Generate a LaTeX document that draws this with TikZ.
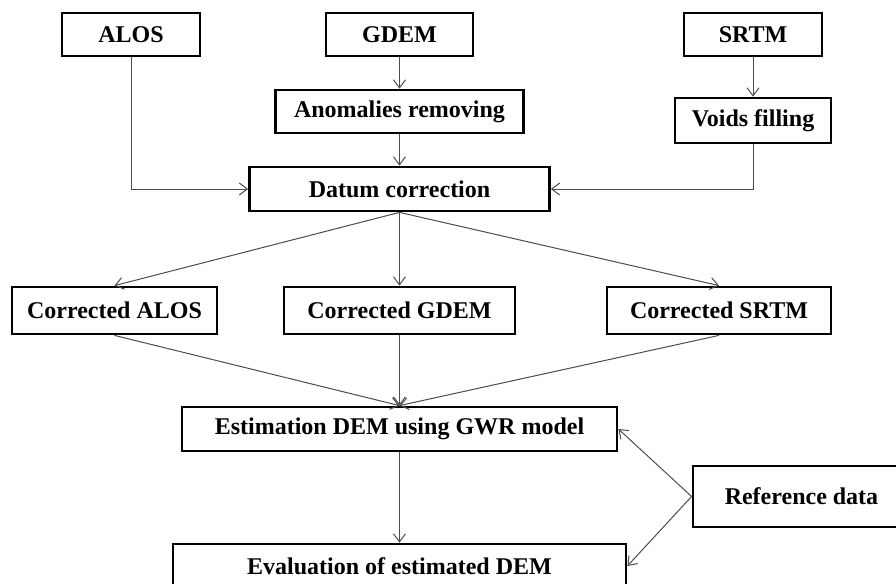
\documentclass[tikz,border=0pt]{standalone}
\usepackage{fontspec}
\setmainfont{Liberation Serif}
\usetikzlibrary{arrows.meta}

\begin{document}
\begin{tikzpicture}[x=0.5pt,y=-0.5pt,
        box/.style={draw,line width=1.4pt,inner sep=0pt,minimum height=22pt,
            font=\bfseries\fontsize{12}{14}\selectfont},
        flow/.style={draw=black!70,line width=0.5pt,
            -{Straight Barb[length=4pt,width=6pt]}}]
        \useasboundingbox (0,0) rectangle (896,584);
        \clip (0,0) rectangle (896,584);
        % input DEMs
        \node[box,minimum width=69pt,minimum height=21.5pt] (alos) at (131,34.5) {ALOS};
        \node[box,minimum width=73.5pt,minimum height=21.5pt] (gdem) at (399.5,34.5) {GDEM};
        \node[box,minimum width=69pt,minimum height=21.5pt] (srtm) at (753,34.5) {SRTM};
        \node[box,minimum width=124pt,minimum height=21.5pt] (anom) at (399.5,111.5) {Anomalies removing};
        \node[box,minimum width=78pt,minimum height=22.5pt] (voids) at (753,120.5) {Voids filling};
        \node[box,minimum width=150pt] (datum) at (399.5,189) {Datum correction};
        % corrected DEMs
        \node[box,minimum width=102.5pt,minimum height=23.5pt] (calos) at (114.5,310.5) {Corrected ALOS};
        \node[box,minimum width=115.5pt,minimum height=23.5pt] (cgdem) at (399.5,310.5) {Corrected GDEM};
        \node[box,minimum width=112pt,minimum height=23.5pt] (csrtm) at (719,310.5) {Corrected SRTM};
        % model and evaluation
        \node[box,minimum width=217.5pt] (est) at (399.5,429) {Estimation DEM using GWR model};
        \node[box,minimum width=226.5pt] (eval) at (399.5,566) {Evaluation of estimated DEM};
        \node[box,minimum width=108.5pt,minimum height=30.5pt] (ref) at (801.5,496.5) {Reference data};
        % connectors
        \draw[flow] (gdem) -- (anom);
        \draw[flow] (anom) -- (datum);
        \draw[flow] (srtm) -- (voids);
        \draw[flow] (alos.south) |- (datum.west);
        \draw[flow] (voids.south) |- (datum.east);
        \foreach \n in {calos, cgdem, csrtm} {
            \draw[flow] (datum.south) -- (\n.north);
            \draw[flow] (\n.south) -- (est.north);
        }
        \draw[flow] (est) -- (eval);
        \draw[flow] (ref.west) -- (est.east);
        \draw[flow] (ref.west) -- (eval.east);
    \end{tikzpicture}
\end{document}
